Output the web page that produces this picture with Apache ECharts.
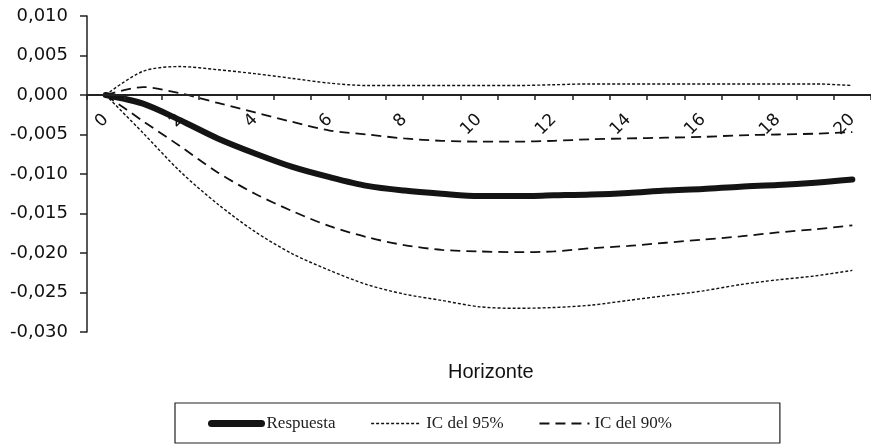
<!DOCTYPE html>
<html>
<head>
<meta charset="utf-8">
<script src="https://cdn.jsdelivr.net/npm/echarts@6/dist/echarts.min.js"></script>
<style>
  html, body { margin: 0; padding: 0; background: #ffffff; }
  #chart { width: 871px; height: 446px; }
</style>
</head>
<body>
<div id="chart"></div>
<script>
// Horizons 0..20
const horizons = ['0','1','2','3','4','5','6','7','8','9','10','11','12','13','14','15','16','17','18','19','20'];

// Impulse response and confidence bands
const respuesta = [0, -0.0011, -0.0032, -0.0055, -0.0074, -0.0091, -0.0104, -0.0115, -0.0121, -0.0125, -0.0128,
                   -0.0128, -0.0127, -0.0126, -0.0124, -0.0121, -0.0119, -0.0116, -0.0114, -0.0111, -0.0107];
const ic95Sup = [0, 0.0030, 0.0036, 0.0032, 0.0027, 0.0021, 0.0015, 0.0012, 0.0012, 0.0012, 0.0012,
                 0.0012, 0.0013, 0.0014, 0.0014, 0.0014, 0.0014, 0.0014, 0.0014, 0.0014, 0.0012];
const ic95Inf = [0, -0.0048, -0.0097, -0.0138, -0.0173, -0.0201, -0.0222, -0.0240, -0.0252, -0.0260, -0.0268,
                 -0.0270, -0.0269, -0.0266, -0.0260, -0.0254, -0.0248, -0.0240, -0.0234, -0.0229, -0.0222];
const ic90Sup = [0, 0.0010, 0.0002, -0.0010, -0.0022, -0.0034, -0.0045, -0.0050, -0.0055, -0.0058, -0.0059,
                 -0.0059, -0.0058, -0.0056, -0.0055, -0.0054, -0.0053, -0.0051, -0.0050, -0.0049, -0.0047];
const ic90Inf = [0, -0.0033, -0.0065, -0.0098, -0.0125, -0.0147, -0.0166, -0.0180, -0.0190, -0.0196, -0.0198,
                 -0.0199, -0.0198, -0.0194, -0.0191, -0.0187, -0.0183, -0.0179, -0.0174, -0.0170, -0.0165];

// Series labels
const nameResp = 'Respuesta';
const name95 = 'IC del 95%';
const name90 = 'IC del 90%';
const axisTitle = 'Horizonte';

const sans = 'DejaVu Sans, Arial, sans-serif';
const titleFont = 'Liberation Sans, Arial, sans-serif';
const serif = 'Liberation Serif, Times New Roman, serif';

const Y_MIN = -0.03, Y_MAX = 0.01;

const chart = echarts.init(document.getElementById('chart'), null, { renderer: 'canvas' });

const dotted = { color: '#111', width: 1.4, type: [3, 2] };
const dashed = { color: '#111', width: 1.8, type: [10, 6] };
const thick = { color: '#141414', width: 6, cap: 'round' };
const hiddenSymbol = { opacity: 0 };

chart.setOption({
  animation: false,
  backgroundColor: '#ffffff',
  title: {
    text: axisTitle,
    left: 443,
    top: 357,
    textStyle: { fontFamily: titleFont, fontSize: 20, fontWeight: 'normal', color: '#111' }
  },
  grid: { left: 87, right: -3, top: 16, bottom: 114, containLabel: false },
  legend: {
    left: 175,
    top: 403,
    padding: [12, 108, 11, 33],
    borderColor: '#222',
    borderWidth: 1.2,
    itemWidth: 50,
    itemHeight: 12,
    itemGap: 35,
    itemStyle: hiddenSymbol,
    textStyle: { fontFamily: serif, fontSize: 17, color: '#222' },
    data: [
      { name: nameResp, itemStyle: hiddenSymbol, lineStyle: { width: 7, cap: 'round' } },
      { name: name95, itemStyle: hiddenSymbol, lineStyle: { width: 1.4 } },
      { name: name90, itemStyle: hiddenSymbol, lineStyle: { width: 1.8 } }
    ]
  },
  xAxis: {
    type: 'category',
    data: horizons,
    boundaryGap: true,
    zlevel: 1,
    z: 10,
    axisLine: { onZero: false, lineStyle: { color: '#222', width: 2 } },
    axisTick: { show: true, interval: 0, length: 5, inside: false, lineStyle: { color: '#222', width: 1.5 } },
    axisLabel: {
      interval: 1,
      rotate: 45,
      margin: 22,
      hideOverlap: false,
      fontFamily: sans,
      fontSize: 17,
      color: '#111'
    },
    splitLine: { show: false }
  },
  yAxis: {
    type: 'value',
    min: Y_MIN,
    max: Y_MAX,
    interval: 0.005,
    axisLine: { show: true, lineStyle: { color: '#222', width: 1.5 } },
    axisTick: { show: true, length: 7, lineStyle: { color: '#222', width: 1.5 } },
    axisLabel: {
      margin: 19,
      fontFamily: sans,
      fontSize: 18,
      color: '#111',
      formatter: v => v.toFixed(3).replace('.', ',')
    },
    splitLine: { show: false }
  },
  series: [
    { name: name95, type: 'line', data: ic95Sup, smooth: 0.3, symbol: 'none', lineStyle: dotted, itemStyle: { color: '#111' }, z: 2 },
    { name: name95, type: 'line', data: ic95Inf, smooth: 0.3, symbol: 'none', lineStyle: dotted, itemStyle: { color: '#111' }, z: 2 },
    { name: name90, type: 'line', data: ic90Sup, smooth: 0.3, symbol: 'none', lineStyle: dashed, itemStyle: { color: '#111' }, z: 2 },
    { name: name90, type: 'line', data: ic90Inf, smooth: 0.3, symbol: 'none', lineStyle: dashed, itemStyle: { color: '#111' }, z: 2 },
    { name: nameResp, type: 'line', data: respuesta, smooth: 0.3, symbol: 'none',
      lineStyle: thick, itemStyle: { color: '#141414' }, z: 3 }
  ]
});

// Put the category axis (line, ticks and labels) on the zero line of the value axis
const zeroPx = chart.convertToPixel({ yAxisIndex: 0 }, 0);
const bottomPx = chart.convertToPixel({ yAxisIndex: 0 }, Y_MIN);
chart.setOption({ xAxis: { offset: zeroPx - bottomPx } });
</script>
</body>
</html>
